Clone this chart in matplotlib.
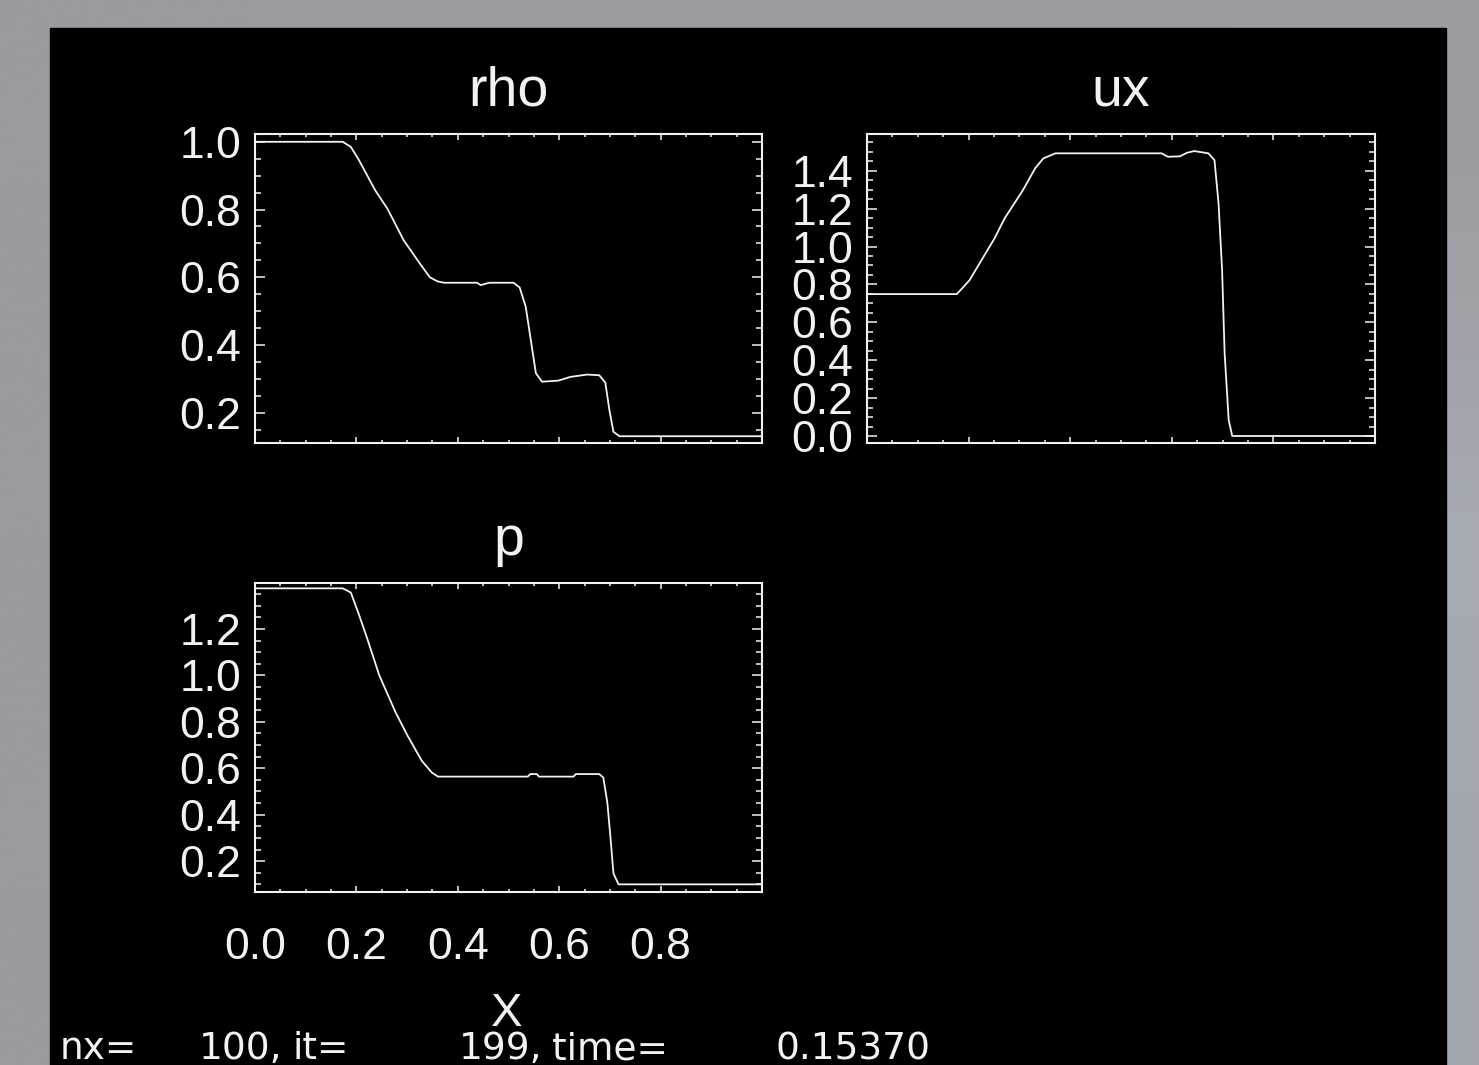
import numpy as np
import matplotlib
matplotlib.use('Agg')
import matplotlib.pyplot as plt
from matplotlib.patches import Rectangle
from matplotlib.ticker import MultipleLocator, FuncFormatter

plt.rcParams['font.family'] = ['Liberation Sans', 'DejaVu Sans']

# Data (x in 0..1)
rho_x = [0.0, 0.173, 0.189, 0.205, 0.237, 0.261, 0.293, 0.325, 0.345, 0.360, 0.373, 0.438,
         0.445, 0.462, 0.510, 0.522, 0.534, 0.546, 0.554, 0.566, 0.598, 0.622, 0.655, 0.679,
         0.691, 0.699, 0.707, 0.719, 1.0]
rho_y = [1.0, 1.0, 0.985, 0.946, 0.857, 0.803, 0.710, 0.641, 0.600, 0.588, 0.584, 0.584,
         0.577, 0.584, 0.584, 0.570, 0.513, 0.395, 0.317, 0.292, 0.295, 0.306, 0.313, 0.311,
         0.289, 0.208, 0.144, 0.131, 0.131]

ux_x = [0.0, 0.177, 0.202, 0.251, 0.271, 0.307, 0.331, 0.347, 0.371, 0.580, 0.592, 0.616,
        0.630, 0.644, 0.672, 0.684, 0.692, 0.699, 0.704, 0.712, 0.719, 1.0]
ux_y = [0.749, 0.749, 0.823, 1.043, 1.149, 1.298, 1.413, 1.465, 1.492, 1.492, 1.474, 1.476,
        1.495, 1.504, 1.492, 1.456, 1.228, 0.876, 0.436, 0.084, 0.0, 0.0]

p_x = [0.0, 0.173, 0.189, 0.205, 0.221, 0.245, 0.277, 0.301, 0.329, 0.349, 0.361, 0.538,
       0.543, 0.556, 0.560, 0.628, 0.633, 0.679, 0.687, 0.695, 0.701, 0.707, 0.717, 1.0]
p_y = [1.375, 1.375, 1.357, 1.262, 1.161, 1.001, 0.842, 0.740, 0.632, 0.581, 0.564, 0.564,
       0.575, 0.575, 0.564, 0.564, 0.575, 0.575, 0.560, 0.451, 0.305, 0.147, 0.100, 0.100]

titles = ['rho', 'ux', 'p']
ylims = [(0.111, 1.023), (-0.037, 1.594), (0.067, 1.398)]
info_parts = [(60, 'nx='), (199, '100,'), (292, 'it='), (459, '199,'), (552, 'time='), (775, '0.15370')]

W, H = 1479, 1065
fig = plt.figure(figsize=(W / 100, H / 100), dpi=100)

# background: grey window frame + black plot window
bg = fig.add_axes([0, 0, 1, 1], zorder=-5)
grad = np.array([[[156, 154, 159], [156, 155, 160], [157, 156, 161]],
                 [[156, 154, 159], [158, 159, 164], [166, 170, 178]],
                 [[156, 154, 159], [158, 161, 167], [162, 167, 175]]]) / 255.0
bg.imshow(grad, extent=(0, W, H, 0), interpolation='bilinear', aspect='auto')
bg.add_patch(Rectangle((50, 28), 1396, 1040, color='black'))
bg.set_xlim(0, W)
bg.set_ylim(H, 0)
bg.axis('off')

fg = '#f2f2f2'


def px_axes(left, top, right, bottom):
    return fig.add_axes([left / W, 1 - bottom / H, (right - left) / W, (bottom - top) / H])


ax_rho = px_axes(255, 134, 762, 443)
ax_ux = px_axes(867, 134, 1375, 443)
ax_p = px_axes(255, 583, 762, 892)

series = [(ax_rho, rho_x, rho_y), (ax_ux, ux_x, ux_y), (ax_p, p_x, p_y)]
for (ax, xs, ys), title, yl in zip(series, titles, ylims):
    ax.set_facecolor('black')
    ax.plot(xs, ys, color=fg, lw=1.3)
    ax.set_xlim(0, 1)
    ax.set_ylim(*yl)
    for s in ax.spines.values():
        s.set_color(fg)
        s.set_linewidth(1.5)
    ax.xaxis.set_major_locator(MultipleLocator(0.2))
    ax.xaxis.set_minor_locator(MultipleLocator(0.05))
    ax.yaxis.set_major_locator(MultipleLocator(0.2))
    ax.yaxis.set_minor_locator(MultipleLocator(0.05))
    ax.tick_params(which='both', direction='in', top=True, right=True, colors=fg, width=1.1)
    ax.tick_params(axis='x', which='major', length=4.5)
    ax.tick_params(axis='x', which='minor', length=2.5)
    ax.tick_params(axis='y', which='major', length=7.5)
    ax.tick_params(axis='y', which='minor', length=4)
    ax.tick_params(axis='y', labelsize=32, pad=10, labelcolor=fg)
    ax.yaxis.set_major_formatter(FuncFormatter(lambda v, pos: f'{v:.1f}'))
    ax.text(0.5, 1 + 28 / 309, title, transform=ax.transAxes, ha='center', va='baseline',
            fontsize=40, color=fg)

ax_rho.tick_params(axis='x', labelbottom=False)
ax_ux.tick_params(axis='x', labelbottom=False)
ax_p.tick_params(axis='x', labelsize=32, pad=25, labelcolor=fg)
ax_p.xaxis.set_major_formatter(FuncFormatter(lambda v, pos: '' if v > 0.9 else f'{v:.1f}'))

# x axis label and run info line
fig.text(507 / W, 1 - 1026 / H, 'X', ha='center', va='baseline', fontsize=34, color=fg)
for xp, s in info_parts:
    fig.text(xp / W, 1 - 1059 / H, s, ha='left', va='baseline', fontsize=27, color=fg,
             family='DejaVu Sans')

fig.savefig('out.png', dpi=100, facecolor=fig.get_facecolor())
